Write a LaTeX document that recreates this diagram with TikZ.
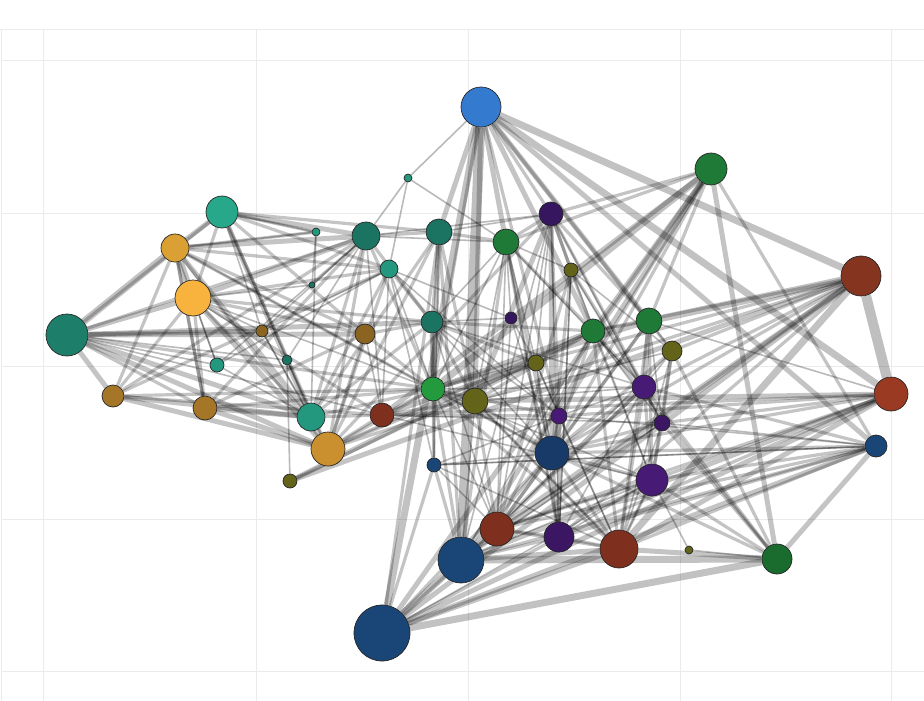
\documentclass[tikz,border=0pt]{standalone}
\usetikzlibrary{backgrounds}

\definecolor{cblue}{HTML}{347BD0}
\definecolor{cgreen}{HTML}{1E7A36}
\definecolor{cforest}{HTML}{1A6B2E}
\definecolor{cbrick}{HTML}{7E2F1E}
\definecolor{crust}{HTML}{85341F}
\definecolor{cred}{HTML}{9A3A22}
\definecolor{cnavy}{HTML}{1A4577}
\definecolor{cnavytwo}{HTML}{183A68}
\definecolor{cpurple}{HTML}{3B1763}
\definecolor{cviolet}{HTML}{471A75}
\definecolor{cplum}{HTML}{35165F}
\definecolor{colive}{HTML}{636319}
\definecolor{clime}{HTML}{249A3E}
\definecolor{corange}{HTML}{CA8F2E}
\definecolor{cteal}{HTML}{23987E}
\definecolor{cteald}{HTML}{1D7F6A}
\definecolor{cjade}{HTML}{27A88A}
\definecolor{cpine}{HTML}{1B7361}
\definecolor{cochre}{HTML}{A67628}
\definecolor{cbrown}{HTML}{8A6420}
\definecolor{cyellow}{HTML}{F8B33E}
\definecolor{cgold}{HTML}{DBA033}
\definecolor{gridgray}{HTML}{EBEBEB}

\begin{document}
\begin{tikzpicture}[
        x=1pt, y=-1pt,
        vtx/.style={circle, draw=black!85, line width=0.7pt, inner sep=0pt},
        gridline/.style={draw=gridgray, line width=1pt},
        eone/.style={draw=black, line width=1.6, opacity=.27},
        etwo/.style={draw=black, line width=3.2, opacity=.23},
        ethree/.style={draw=black, line width=5, opacity=.23},
        efour/.style={draw=black, line width=7, opacity=.24},
        efive/.style={draw=black, line width=10, opacity=.25},
    ]
    \useasboundingbox (0,0) rectangle (924,701);

    % vertices
    \node[vtx, minimum size=40, fill=cblue] (A) at (481,107) {};
    \node[vtx, minimum size=32, fill=cgreen] (B) at (711,169) {};
    \node[vtx, minimum size=40, fill=crust] (C) at (861,276) {};
    \node[vtx, minimum size=34, fill=cred] (D) at (891,394) {};
    \node[vtx, minimum size=22, fill=cnavy] (E) at (876,446) {};
    \node[vtx, minimum size=30, fill=cforest] (F) at (777,559) {};
    \node[vtx, minimum size=8, fill=colive] (G) at (689,550) {};
    \node[vtx, minimum size=38, fill=cbrick] (H) at (619,549) {};
    \node[vtx, minimum size=30, fill=cpurple] (I) at (559,537) {};
    \node[vtx, minimum size=34, fill=cbrick] (J) at (497,529) {};
    \node[vtx, minimum size=46, fill=cnavy] (K) at (461,560) {};
    \node[vtx, minimum size=56, fill=cnavy] (L) at (382,633) {};
    \node[vtx, minimum size=14, fill=cnavy] (M) at (434,465) {};
    \node[vtx, minimum size=34, fill=cnavytwo] (N) at (552,453) {};
    \node[vtx, minimum size=32, fill=cviolet] (O) at (652,480) {};
    \node[vtx, minimum size=16, fill=cpurple] (P) at (662,423) {};
    \node[vtx, minimum size=24, fill=cviolet] (Q) at (644,387) {};
    \node[vtx, minimum size=16, fill=cviolet] (R) at (559,416) {};
    \node[vtx, minimum size=26, fill=colive] (S) at (475,401) {};
    \node[vtx, minimum size=24, fill=clime] (T) at (433,389) {};
    \node[vtx, minimum size=24, fill=cbrick] (U) at (382,415) {};
    \node[vtx, minimum size=34, fill=corange] (V) at (328,449) {};
    \node[vtx, minimum size=28, fill=cteal] (W) at (311,417) {};
    \node[vtx, minimum size=14, fill=colive] (X) at (290,481) {};
    \node[vtx, minimum size=24, fill=cochre] (Y) at (205,408) {};
    \node[vtx, minimum size=22, fill=cochre] (Z) at (113,396) {};
    \node[vtx, minimum size=42, fill=cteald] (AA) at (67,335) {};
    \node[vtx, minimum size=36, fill=cyellow] (AB) at (193,298) {};
    \node[vtx, minimum size=28, fill=cgold] (AC) at (175,248) {};
    \node[vtx, minimum size=32, fill=cjade] (AD) at (222,212) {};
    \node[vtx, minimum size=14, fill=cteal] (AE) at (217,365) {};
    \node[vtx, minimum size=12, fill=cbrown] (AF) at (262,331) {};
    \node[vtx, minimum size=10, fill=cpine] (AG) at (287,360) {};
    \node[vtx, minimum size=6, fill=cpine] (AH) at (312,285) {};
    \node[vtx, minimum size=8, fill=cteal] (AI) at (316,232) {};
    \node[vtx, minimum size=28, fill=cpine] (AJ) at (366,236) {};
    \node[vtx, minimum size=18, fill=cteal] (AK) at (389,269) {};
    \node[vtx, minimum size=8, fill=cteal] (AL) at (408,178) {};
    \node[vtx, minimum size=26, fill=cpine] (AM) at (439,232) {};
    \node[vtx, minimum size=20, fill=cbrown] (AN) at (365,334) {};
    \node[vtx, minimum size=22, fill=cpine] (AO) at (432,322) {};
    \node[vtx, minimum size=26, fill=cgreen] (AP) at (506,242) {};
    \node[vtx, minimum size=24, fill=cplum] (AQ) at (551,214) {};
    \node[vtx, minimum size=14, fill=colive] (AR) at (571,270) {};
    \node[vtx, minimum size=12, fill=cplum] (AS) at (511,318) {};
    \node[vtx, minimum size=16, fill=colive] (AT) at (536,363) {};
    \node[vtx, minimum size=24, fill=cgreen] (AU) at (593,331) {};
    \node[vtx, minimum size=26, fill=cgreen] (AV) at (649,321) {};
    \node[vtx, minimum size=20, fill=colive] (AW) at (672,351) {};

    \begin{scope}[on background layer]
        % grid
        \foreach \gx in {1,43,256,468,680,891}
            \draw[gridline] (\gx,30) -- (\gx,701);
        \draw[gridline] (0,30) -- (924,30);
        \foreach \gy in {61,213,366,519,671}
            \draw[gridline] (1,\gy) -- (924,\gy);

        % links, heaviest first
        \foreach \a/\b in {A/K, C/D}
            \draw[efive] (\a) -- (\b);
        \foreach \a/\b in {A/L, A/C, A/D, L/F, K/F, AA/AC, AB/AC, B/T, C/H, C/AV, L/K}
            \draw[efour] (\a) -- (\b);
        \foreach \a/\b in {A/E, A/AV, A/S, A/AM, A/AP, A/AU, B/U, B/L, B/AU, B/K, B/F,
                C/L, C/K, L/H, L/E, L/D, K/H, AA/AB, AA/Z, AA/W, AA/V, Z/V, Z/W,
                AD/AJ, AC/AJ, AD/W, AC/W, AB/V, Y/V, AM/T, AO/T, D/S, AQ/N, X/AU,
                X/C, AV/Q, H/F, E/F, D/H, D/K, C/J, AD/AC, AB/AJ, Y/W, T/AU, T/AV,
                S/AQ, U/AT, AA/AF, AA/AN, AA/AO}
            \draw[ethree] (\a) -- (\b);
        \foreach \a/\b in {A/AQ, A/T, A/R, A/AW, B/AQ, B/AP, B/N, B/R, B/AV, B/E,
                C/AW, C/Q, C/AU, C/S, C/I, C/N, C/T, D/U, D/J, D/I, D/N, D/R, D/O,
                D/P, E/H, E/I, E/J, E/K, E/N, E/O, E/Q, F/P, F/Q, F/AU, F/N, F/O,
                F/AW, H/J, H/I, H/N, H/O, H/Q, H/AU, H/AV, H/T, I/J, I/N, I/R, I/K,
                J/K, J/N, J/Q, J/AU, J/AV, J/O, K/N, K/Q, K/AP, K/T, L/N, L/J, L/I,
                L/M, L/AM, M/K, M/AO, AA/AJ, AA/T, AA/Y, AA/AD,
                Z/AB, Z/AC, Z/AK, Z/AJ, Z/T, Z/U, Y/AC, Y/AB, Y/AN, Y/AJ, Y/T,
                AC/AK, AC/AN, AC/V, AC/AI, AC/Y, AC/T, AB/AK, AB/AN, AB/W, AB/AO,
                AB/U, AD/AK, AD/AN, AD/V, AD/AI, AD/AM, AD/AB, AJ/W, AJ/V, AJ/AM,
                AJ/AO, AJ/T, AK/V, AK/W, AK/AO, AN/AO, AN/V, AN/T, AM/AO, AM/AP,
                AM/S, AM/K, AO/S, AO/AU, AO/AT, AP/AQ, AP/AU, AP/N, AP/I, AQ/AU,
                AQ/AV, AQ/Q, AQ/R, AQ/AR, AR/Q, AR/N, AR/J, AU/Q, AU/N, AU/S, AU/AV,
                AV/O, AV/N, AW/O, AW/P, AW/N, Q/O, Q/N, P/O, P/N, N/O, N/S, N/R,
                S/T, S/U, S/J, S/H, T/U, T/R, T/N, U/R, U/V, U/W, V/T, V/S, W/T,
                V/AT, W/AM, W/AO, X/AT, V/AU, V/AQ, V/AM}
            \draw[etwo] (\a) -- (\b);
        \foreach \a/\b in {AL/A, AL/AJ, AL/AK, AL/AP, AI/W, AH/AI, AH/AJ, AG/X, G/F,
                G/O, AE/AB, AE/AC, AE/AA, AE/AJ, AE/W, AE/AK, AF/AB, AF/AD, AF/AJ,
                AF/V, AF/W, AF/AK, AG/AA, AG/AB, AG/AD, AG/AJ, AG/W, AG/V, AH/AB,
                AI/AD, AI/AC, AS/AK, AS/AO, AS/AP, AS/AT, AS/J, AS/N, AT/AP, AT/AQ,
                AT/R, AT/N, AT/I, AR/AP, AR/AW, AR/P, AR/O, AR/I, AP/S, AP/T, AP/AJ,
                AP/AO, AP/Q, AP/J, AQ/P, AQ/I, AQ/J, AQ/K, AQ/AM, AQ/AJ, AU/O, AU/P,
                AU/K, AV/P, AV/AW, AW/Q, AW/J, AW/S, AW/H, Q/P, Q/I, Q/T, Q/S, Q/AO,
                P/H, P/J, P/K, P/U, O/H, O/I, O/J, O/K, O/L, O/T, O/U, R/N, R/Q,
                R/E, R/H, R/M, R/AO, R/AK, M/T, M/J, M/H, M/N, M/AK, M/AM, M/E,
                N/T, N/AO, I/AP, I/AR, J/T, J/AO, K/S, H/S, H/AT, E/P, E/M, D/AV,
                T/AK, T/AB, T/AC, U/AN, U/AK, U/AJ, U/AA}
            \draw[eone] (\a) -- (\b);
    \end{scope}
\end{tikzpicture}
\end{document}
